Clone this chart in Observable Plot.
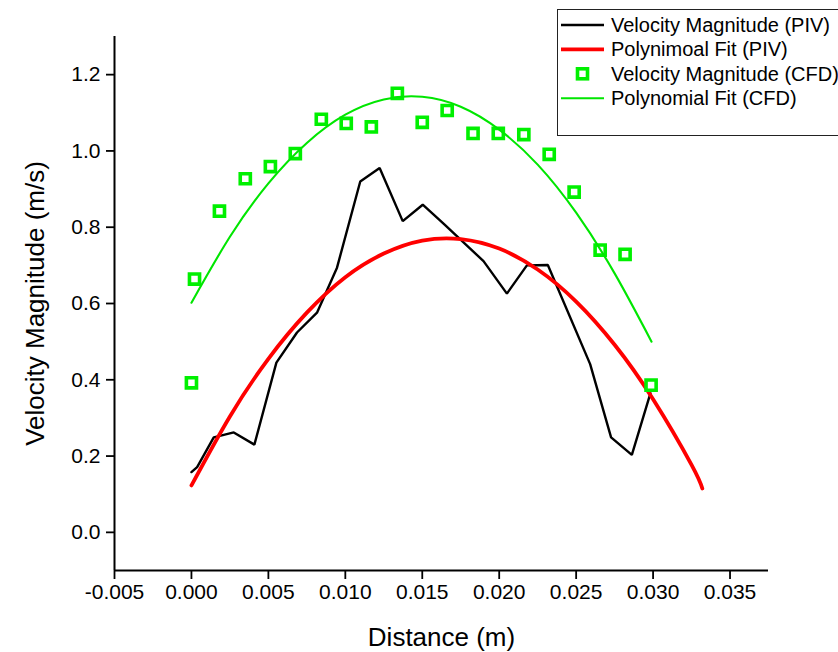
<!DOCTYPE html>
<html>
<head>
<meta charset="utf-8">
<script src="https://cdn.jsdelivr.net/npm/d3@7"></script>
<script src="https://cdn.jsdelivr.net/npm/@observablehq/plot@0.6"></script>
<style>
  html, body { margin: 0; padding: 0; background: #fff; overflow: hidden; }
  #wrap { position: relative; width: 838px; height: 652px; font-family: "Liberation Sans", Arial, sans-serif; }
  #legend { position: absolute; left: 557px; top: 9px; width: 300px; height: 125px; border: 1px solid #222; background: #fff; }
</style>
</head>
<body>
<div id="wrap"></div>
<script>
// PIV measured velocity magnitude (black line)
const pivX = [0.0000, 0.00037, 0.00145, 0.00275, 0.00409, 0.00552, 0.00686, 0.00816, 0.00946, 0.01097, 0.01223, 0.01373, 0.01503, 0.0164, 0.01898, 0.0205, 0.0218, 0.02316, 0.02591, 0.02727, 0.02862, 0.02983];
const pivY = [0.158, 0.171, 0.249, 0.262, 0.230, 0.445, 0.524, 0.576, 0.694, 0.920, 0.955, 0.816, 0.859, 0.809, 0.711, 0.626, 0.700, 0.701, 0.441, 0.249, 0.203, 0.365];

// Polynomial fit of PIV (red curve)
const pivFitX = [0, 0.0025, 0.005, 0.0075, 0.01, 0.0125, 0.015, 0.0175, 0.02, 0.0225, 0.025, 0.0275, 0.03, 0.0325, 0.0332];
const pivFitY = [0.123, 0.304, 0.455, 0.576, 0.669, 0.731, 0.765, 0.769, 0.744, 0.689, 0.605, 0.492, 0.349, 0.177, 0.115];

// CFD velocity magnitude (green squares)
const cfdX = [0.0000, 0.0002, 0.00182, 0.0035, 0.00513, 0.00675, 0.00844, 0.01006, 0.01169, 0.01338, 0.0150, 0.01662, 0.0183, 0.01994, 0.0216, 0.02325, 0.02487, 0.02656, 0.02818, 0.02987];
const cfdY = [0.392, 0.664, 0.842, 0.927, 0.959, 0.993, 1.083, 1.072, 1.063, 1.151, 1.075, 1.106, 1.046, 1.046, 1.043, 0.991, 0.892, 0.740, 0.729, 0.386];

// Polynomial fit of CFD (green curve)
const cfdFitX = [0, 0.0025, 0.005, 0.0075, 0.01, 0.0125, 0.015, 0.0175, 0.02, 0.0225, 0.025, 0.0275, 0.0299];
const cfdFitY = [0.602, 0.775, 0.915, 1.021, 1.095, 1.135, 1.142, 1.116, 1.056, 0.964, 0.838, 0.679, 0.500];

const xTicks = [-0.005, 0.000, 0.005, 0.010, 0.015, 0.020, 0.025, 0.030, 0.035];
const yTicks = [0.0, 0.2, 0.4, 0.6, 0.8, 1.0, 1.2];
const xLabel = "Distance (m)";
const yLabel = "Velocity Magnitude (m/s)";
const legendLabels = ["Velocity Magnitude (PIV)", "Polynimoal Fit (PIV)", "Velocity Magnitude (CFD)", "Polynomial Fit (CFD)"];

const zip = (xs, ys) => xs.map((x, i) => ({x, y: ys[i]}));
const piv = zip(pivX, pivY);
const pivFit = zip(pivFitX, pivFitY);
const cfd = zip(cfdX, cfdY);
const cfdFit = zip(cfdFitX, cfdFitY);

const font = "'Liberation Sans', Arial, sans-serif";

const chart = Plot.plot({
  width: 838,
  height: 652,
  marginLeft: 114,
  marginRight: 70,
  marginTop: 36,
  marginBottom: 82,
  style: {fontFamily: font, fontSize: "21px", color: "#000", background: "#fff", overflow: "visible"},
  x: {domain: [-0.005, 0.0375]},
  y: {domain: [-0.1, 1.3]},
  marks: [
    Plot.axisX({ticks: xTicks, tickFormat: d => d.toFixed(3), tickSize: 9, tickPadding: 5, strokeWidth: 1.8, label: null, fontSize: 21}),
    Plot.axisY({ticks: yTicks, tickFormat: d => d.toFixed(1), tickSize: 8, tickPadding: 6, strokeWidth: 1.8, label: null, fontSize: 21}),
    Plot.ruleX([-0.005], {stroke: "#000", strokeWidth: 2}),
    Plot.ruleY([-0.1], {stroke: "#000", strokeWidth: 2}),
    Plot.line(piv, {x: "x", y: "y", stroke: "#000", strokeWidth: 2.4, strokeLinejoin: "miter"}),
    Plot.line(pivFit, {x: "x", y: "y", stroke: "#ff0000", strokeWidth: 3.8, curve: "natural"}),
    Plot.dot(cfd, {x: "x", y: "y", symbol: "square", r: 5.7, stroke: "#00f000", strokeWidth: 3.6, fill: "#fff"}),
    Plot.line(cfdFit, {x: "x", y: "y", stroke: "#00e600", strokeWidth: 2.1, curve: "natural"}),
    Plot.text([xLabel], {frameAnchor: "bottom", dy: 67, fontSize: 26, lineAnchor: "middle", fill: "#000"}),
    Plot.text([yLabel], {frameAnchor: "left", dx: -79, rotate: -90, fontSize: 26, textAnchor: "middle", lineAnchor: "middle", fill: "#000"})
  ]
});

const wrap = document.getElementById("wrap");
wrap.appendChild(chart);

// Legend (overlay at top right)
const legend = document.createElement("div");
legend.id = "legend";
const ns = "http://www.w3.org/2000/svg";
const lsvg = document.createElementNS(ns, "svg");
lsvg.setAttribute("width", "300");
lsvg.setAttribute("height", "125");
lsvg.style.display = "block";
const styles = [
  {type: "line", color: "#000", w: 2.4},
  {type: "line", color: "#ff0000", w: 3.8},
  {type: "square", color: "#00f000", w: 3.6},
  {type: "line", color: "#00e600", w: 2.1}
];
legendLabels.forEach((lab, i) => {
  const cy = 15 + i * 24.4;
  const s = styles[i];
  if (s.type === "line") {
    const l = document.createElementNS(ns, "line");
    l.setAttribute("x1", 3); l.setAttribute("x2", 46);
    l.setAttribute("y1", cy); l.setAttribute("y2", cy);
    l.setAttribute("stroke", s.color); l.setAttribute("stroke-width", s.w);
    lsvg.appendChild(l);
  } else {
    const r = document.createElementNS(ns, "rect");
    r.setAttribute("x", 24.5 - 5); r.setAttribute("y", cy - 5);
    r.setAttribute("width", 10); r.setAttribute("height", 10);
    r.setAttribute("fill", "#fff"); r.setAttribute("stroke", s.color); r.setAttribute("stroke-width", s.w);
    lsvg.appendChild(r);
  }
  const t = document.createElementNS(ns, "text");
  t.setAttribute("x", 53); t.setAttribute("y", cy);
  t.setAttribute("dy", "0.35em");
  t.setAttribute("font-size", "20");
  t.setAttribute("font-family", font);
  t.setAttribute("fill", "#000");
  t.textContent = lab;
  lsvg.appendChild(t);
});
legend.appendChild(lsvg);
wrap.appendChild(legend);
</script>
</body>
</html>
